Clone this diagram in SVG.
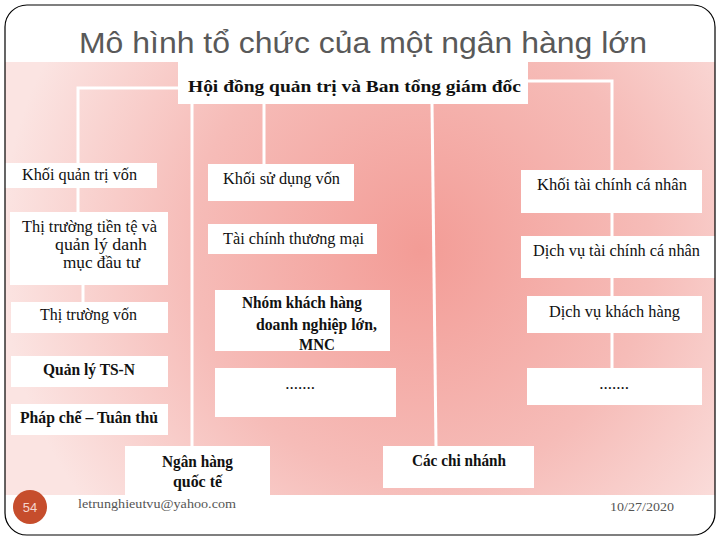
<svg xmlns="http://www.w3.org/2000/svg" width="720" height="540" viewBox="0 0 720 540">
<defs>
<radialGradient id="bg" gradientUnits="userSpaceOnUse" cx="420" cy="250" r="420">
<stop offset="0" stop-color="#f39c96"/>
<stop offset="0.55" stop-color="#f6bcb8"/>
<stop offset="1" stop-color="#fbe4e2"/>
</radialGradient>
<style>
.box{fill:#ffffff;}
.t{font-family:"Liberation Serif","Times New Roman",serif;font-size:17px;fill:#111;}
.b{font-weight:bold;}
.ln{stroke:#ffffff;stroke-width:3;fill:none;}
.ft{font-family:"Liberation Serif","Times New Roman",serif;font-size:13px;fill:#555;}
</style>
</defs>
<rect x="5" y="5" width="710" height="530" rx="22" fill="#ffffff"/>
<text x="363" y="53" text-anchor="middle" font-family="Liberation Sans, Arial, sans-serif" font-size="29" fill="#595959" textLength="568" lengthAdjust="spacingAndGlyphs">Mô hình tổ chức của một ngân hàng lớn</text>
<rect x="5" y="62" width="710" height="433" fill="url(#bg)"/>

<g id="connectors">
<polyline class="ln" points="178,88 78,88 78,212"/>
<line class="ln" x1="83" y1="285" x2="83" y2="302"/>
<polyline class="ln" points="528,81 612,81 612,368"/>
<line class="ln" x1="192" y1="104" x2="192" y2="446"/>
<line class="ln" x1="264" y1="104" x2="264" y2="164"/>
<line class="ln" x1="432" y1="104" x2="436" y2="446"/>
</g>

<g id="n-top">
<rect class="box" x="178" y="62" width="350" height="42"/>
<text class="t b" x="188" y="92" font-size="19" textLength="333" lengthAdjust="spacingAndGlyphs">Hội đồng quản trị và Ban tổng giám đốc</text>
</g>
<g id="n-khoi-quan-tri-von">
<rect class="box" x="5" y="163" width="152" height="25"/>
<text class="t" x="22" y="180" textLength="115" lengthAdjust="spacingAndGlyphs">Khối quản trị vốn</text>
</g>
<g id="n-thi-truong-tien-te">
<rect class="box" x="10" y="212" width="158" height="73"/>
<text class="t" x="22" y="232" textLength="135" lengthAdjust="spacingAndGlyphs">Thị trường tiền tệ và</text>
<text class="t" x="55" y="250" textLength="92" lengthAdjust="spacingAndGlyphs">quản lý danh</text>
<text class="t" x="63" y="268" textLength="77" lengthAdjust="spacingAndGlyphs">mục đầu tư</text>
</g>
<g id="n-thi-truong-von">
<rect class="box" x="11" y="302" width="157" height="31"/>
<text class="t" x="40" y="320" textLength="97" lengthAdjust="spacingAndGlyphs">Thị trường vốn</text>
</g>
<g id="n-quan-ly-tsn">
<rect class="box" x="11" y="356" width="157" height="31"/>
<text class="t b" x="43" y="375" textLength="92" lengthAdjust="spacingAndGlyphs">Quản lý TS-N</text>
</g>
<g id="n-phap-che">
<rect class="box" x="11" y="404" width="157" height="31"/>
<text class="t b" x="20" y="423" textLength="138" lengthAdjust="spacingAndGlyphs">Pháp chế – Tuân thủ</text>
</g>
<g id="n-ngan-hang-quoc-te">
<rect class="box" x="125" y="446" width="145" height="49"/>
<text class="t b" x="162" y="467" textLength="71" lengthAdjust="spacingAndGlyphs">Ngân hàng</text>
<text class="t b" x="173" y="487" textLength="49" lengthAdjust="spacingAndGlyphs">quốc tế</text>
</g>
<g id="n-khoi-su-dung-von">
<rect class="box" x="208" y="164" width="146" height="37"/>
<text class="t" x="223" y="184" textLength="117" lengthAdjust="spacingAndGlyphs">Khối sử dụng vốn</text>
</g>
<g id="n-tai-chinh-thuong-mai">
<rect class="box" x="208" y="224" width="169" height="30"/>
<text class="t" x="223" y="244" textLength="141" lengthAdjust="spacingAndGlyphs">Tài chính thương mại</text>
</g>
<g id="n-nhom-khach-hang">
<rect class="box" x="215" y="290" width="175" height="61"/>
<text class="t b" x="242" y="308" textLength="120" lengthAdjust="spacingAndGlyphs">Nhóm khách hàng</text>
<text class="t b" x="256" y="330" textLength="121" lengthAdjust="spacingAndGlyphs">doanh nghiệp lớn,</text>
<text class="t b" x="299" y="350" font-size="16" textLength="36" lengthAdjust="spacingAndGlyphs">MNC</text>
</g>
<g id="n-dots-mid">
<rect class="box" x="215" y="368" width="181" height="49"/>
<text class="t" x="300" y="389" font-size="9" text-anchor="middle">.......</text>
</g>
<g id="n-cac-chi-nhanh">
<rect class="box" x="383" y="446" width="151" height="42"/>
<text class="t b" x="412" y="466" textLength="94" lengthAdjust="spacingAndGlyphs">Các chi nhánh</text>
</g>
<g id="n-khoi-tai-chinh-ca-nhan">
<rect class="box" x="521" y="170" width="181" height="43"/>
<text class="t" x="537" y="190" textLength="150" lengthAdjust="spacingAndGlyphs">Khối tài chính cá nhân</text>
</g>
<g id="n-dich-vu-tai-chinh">
<rect class="box" x="521" y="236" width="194" height="42"/>
<text class="t" x="533" y="256" textLength="167" lengthAdjust="spacingAndGlyphs">Dịch vụ tài chính cá nhân</text>
</g>
<g id="n-dich-vu-khach-hang">
<rect class="box" x="527" y="296" width="175" height="37"/>
<text class="t" x="549" y="317" textLength="131" lengthAdjust="spacingAndGlyphs">Dịch vụ khách hàng</text>
</g>
<g id="n-dots-right">
<rect class="box" x="527" y="368" width="175" height="37"/>
<text class="t" x="614" y="389" font-size="9" text-anchor="middle">.......</text>
</g>

<g id="footer">
<circle cx="30" cy="507" r="17" fill="#c64d2c"/>
<text x="30" y="512" text-anchor="middle" font-family="Liberation Sans, Arial, sans-serif" font-size="13" fill="#f5d5cc">54</text>
<text class="ft" x="78" y="508" textLength="158" lengthAdjust="spacingAndGlyphs">letrunghieutvu@yahoo.com</text>
<text class="ft" x="610" y="511" textLength="64" lengthAdjust="spacingAndGlyphs">10/27/2020</text>
</g>
<rect x="5" y="5" width="710" height="530" rx="22" fill="none" stroke="#000" stroke-width="1.2"/>
</svg>
